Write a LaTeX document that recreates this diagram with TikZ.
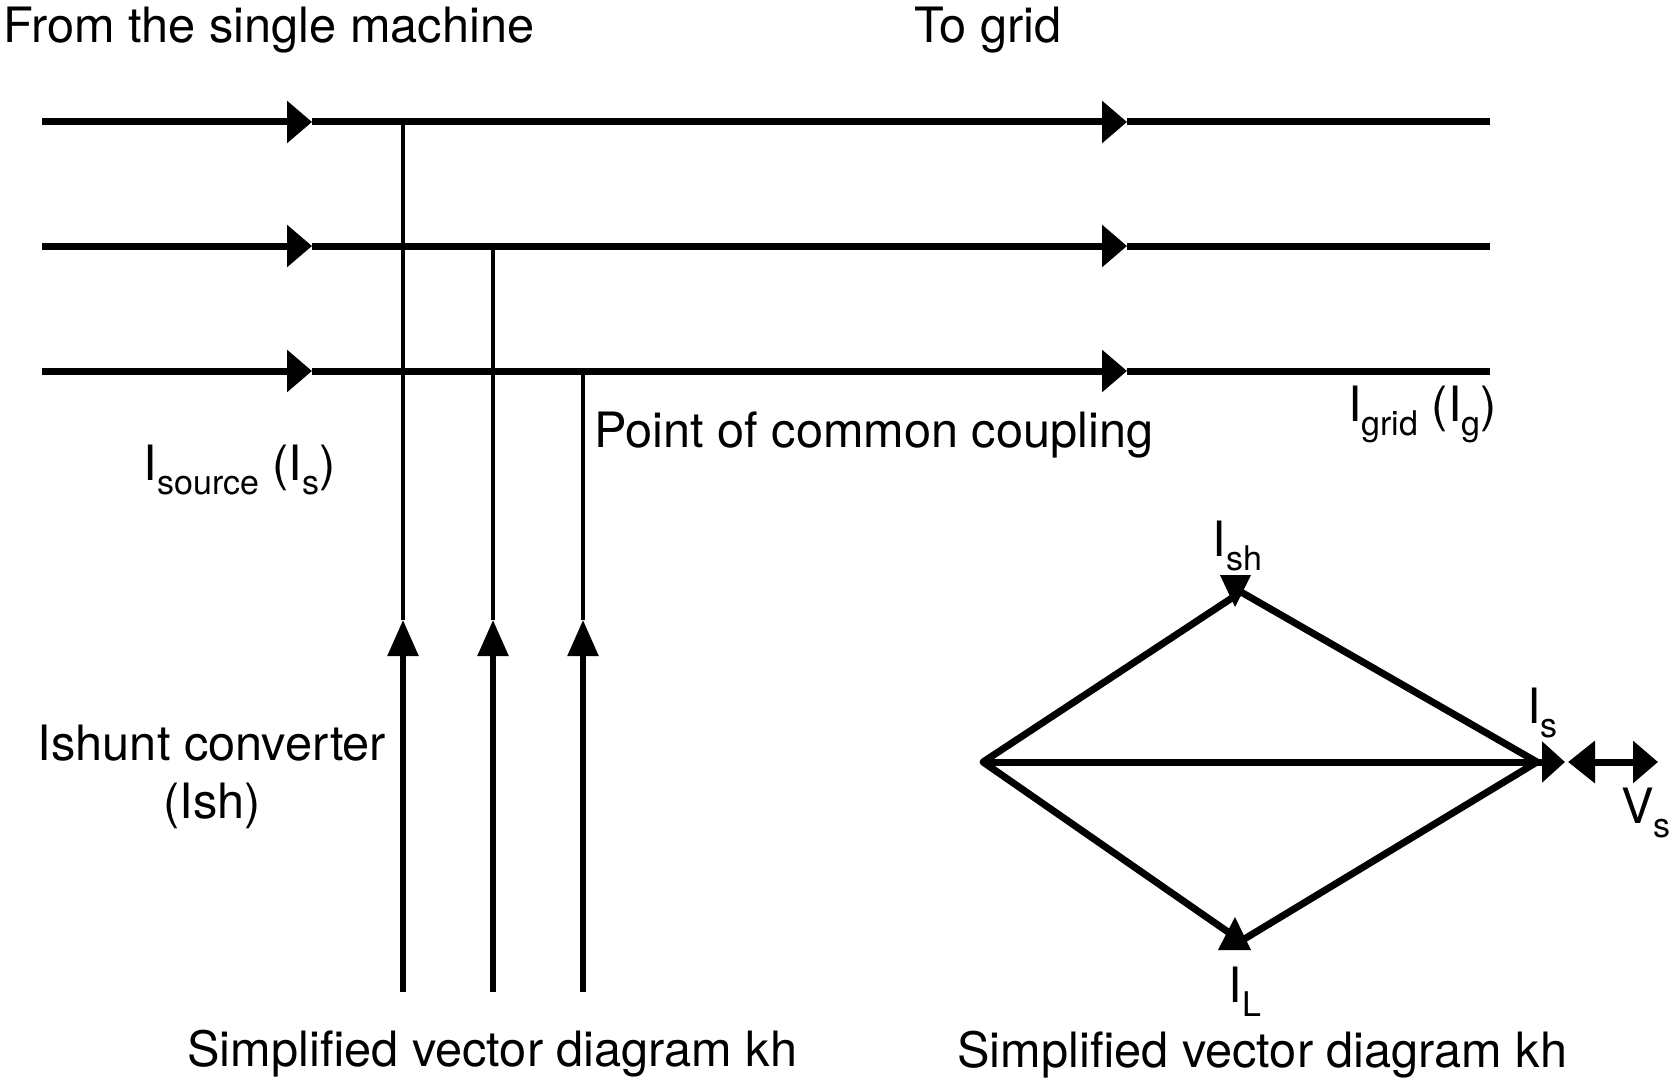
\documentclass[tikz,border=0pt]{standalone}
\usepackage{fontspec}
\setmainfont{TeX Gyre Heros}
\usetikzlibrary{arrows.meta}
\newcommand\lsb[1]{\raisebox{-14pt}{\fontsize{34}{34}\selectfont #1}}
\begin{document}
\begin{tikzpicture}[x=1pt,y=-1pt,
  bus/.style={line width=7pt},
  busarrow/.style={bus,-{Triangle[length=25pt,width=41pt]}},
  tap/.style={line width=4.5pt},
  feed/.style={line width=5.5pt,-{Triangle[length=36pt,width=30pt]}},
  vec/.style={line width=7pt,line cap=round,line join=round},
  lbl/.style={inner sep=0pt,anchor=base west,font=\fontsize{48.7}{58}\selectfont}
]
\useasboundingbox (0,0) rectangle (1678,1086);

% bus lines
\foreach \n/\y in {1/122,2/246,3/371}{
  \coordinate (s\n) at (42,\y);
  \coordinate (a\n) at (312,\y);
  \coordinate (b\n) at (1127,\y);
  \coordinate (e\n) at (1490,\y);
  \draw[busarrow] (s\n) -- (a\n);
  \draw[busarrow] (a\n) -- (b\n);
  \draw[bus] (b\n) -- (e\n);
}

% shunt feeders
\foreach \n/\x/\y in {1/403/122,2/493/246,3/583/371}{
  \coordinate (t\n) at (\x,\y);
  \coordinate (p\n) at (\x,620);
  \coordinate (q\n) at (\x,992);
  \draw[tap] (t\n) -- (p\n);
  \draw[feed] (q\n) -- (p\n);
}

% labels of the circuit
\node[lbl] (from) at (3,43) {From the single machine};
\node[lbl] (togrid) at (914,43) {To grid};
\node[lbl] (pcc) at (594,447) {Point of common coupling};
\node[lbl] (igrid) at (1348,421) {I\lsb{grid} (I\lsb{g})};
\node[lbl] (isource) at (143.5,480) {I\lsb{source} (I\lsb{s})};
\node[lbl,anchor=base,align=center] (ishunt) at (212,818) {Ishunt converter\\(Ish)};
\node[lbl] (svd1) at (187,1066) {Simplified vector diagram kh};

% vector diagram
\coordinate (L) at (983,762);
\coordinate (T) at (1241,592);
\coordinate (R) at (1537,762);
\coordinate (B) at (1241,941);
\coordinate (Rt) at (1565,762);
\coordinate (V1) at (1568,762);
\coordinate (V2) at (1658,762);
\draw[vec] (L) -- (T) -- (R) -- (B) -- cycle;
\draw[line width=7pt,-{Triangle[length=23pt,width=40pt]}] (L) -- (Rt);
\draw[line width=7pt,{Triangle[length=27pt,width=41pt]}-{Triangle[length=25pt,width=41pt]}] (V1) -- (V2);
\fill (1220,575) -- (1251,575) -- (1235,607) -- cycle;
\fill (1218,950) -- (1251,950) -- (1235,917) -- cycle;

\node[lbl] (ish) at (1212.5,556) {I\lsb{sh}};
\node[lbl] (is) at (1527,723) {I\lsb{s}};
\node[lbl] (vs) at (1621,823) {V\lsb{s}};
\node[lbl] (il) at (1228.5,1002) {I\lsb{L}};
\node[lbl] (svd2) at (957,1067) {Simplified vector diagram kh};
\end{tikzpicture}
\end{document}
